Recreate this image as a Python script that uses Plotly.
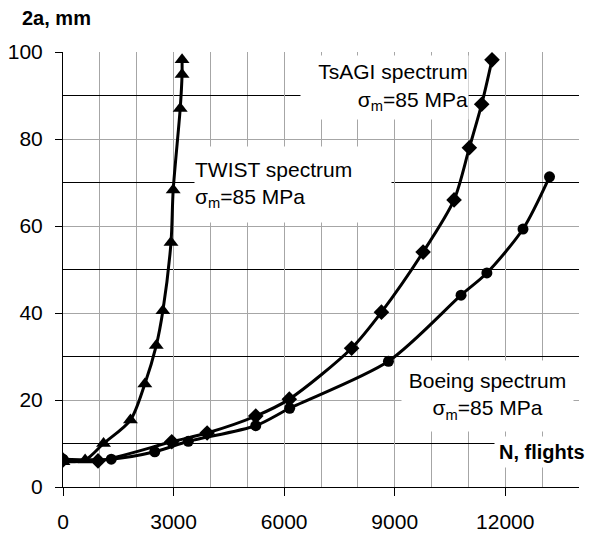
import plotly.graph_objects as go

# TWIST spectrum (triangles)
twist_n = [0, 600, 1100, 1830, 2220, 2530, 2710, 2930, 2990, 3180, 3230, 3230]
twist_a = [5.8, 6.2, 10.0, 15.4, 23.7, 32.5, 40.5, 56.2, 68.3, 87.0, 94.8, 98.2]

# TsAGI spectrum (diamonds)
tsagi_n = [0, 950, 2950, 3910, 5230, 6140, 7830, 8640, 9770, 10610, 11025, 11360, 11640]
tsagi_a = [6.2, 6.0, 10.4, 12.4, 16.3, 20.2, 31.9, 40.2, 54.0, 66.0, 78.0, 88.0, 98.2]

# Boeing spectrum (circles)
boeing_n = [0, 1310, 2490, 3400, 5230, 6150, 8830, 10800, 11500, 12480, 13200]
boeing_a = [6.4, 6.4, 8.1, 10.5, 14.1, 18.1, 28.9, 44.1, 49.2, 59.3, 71.3]

x_ticks = [0, 3000, 6000, 9000, 12000]
y_ticks = [0, 20, 40, 60, 80, 100]

FONT = "Liberation Sans, Arial, sans-serif"

fig = go.Figure()
common_line = dict(color="black", width=3, shape="spline", smoothing=0.8)
fig.add_trace(go.Scatter(x=twist_n, y=twist_a, mode="lines+markers",
                         line=common_line,
                         marker=dict(symbol="triangle-up", size=13, color="black"),
                         name="TWIST"))
fig.add_trace(go.Scatter(x=tsagi_n, y=tsagi_a, mode="lines+markers",
                         line=common_line,
                         marker=dict(symbol="diamond", size=12, color="black"),
                         name="TsAGI"))
fig.add_trace(go.Scatter(x=boeing_n, y=boeing_a, mode="lines+markers",
                         line=common_line,
                         marker=dict(symbol="circle", size=11, color="black"),
                         name="Boeing"))

grid_gray = "#a6a6a6"
fig.update_xaxes(range=[0, 14000], tickvals=x_ticks, ticktext=[str(v) for v in x_ticks],
                 showgrid=True, gridcolor=grid_gray, gridwidth=1,
                 minor=dict(dtick=1000, showgrid=True, gridcolor=grid_gray, gridwidth=1, ticks=""),
                 ticks="outside", ticklen=8, tickcolor="black", tickwidth=1,
                 showline=True, linecolor="black", linewidth=1, zeroline=False,
                 ticklabelstandoff=8, automargin=False,
                 tickfont=dict(family=FONT, size=21, color="black"))
fig.update_yaxes(range=[0, 100], tickvals=y_ticks, ticktext=[str(v) for v in y_ticks],
                 showgrid=True, gridcolor=grid_gray, gridwidth=1,
                 minor=dict(dtick=10, showgrid=True, gridcolor="black", gridwidth=1, ticks=""),
                 ticks="outside", ticklen=7, tickcolor="black", tickwidth=1,
                 showline=True, linecolor="black", linewidth=1, zeroline=False,
                 ticklabelstandoff=8, automargin=False,
                 tickfont=dict(family=FONT, size=21, color="black"))

PX_N = 516 / 14000
PX_A = 435 / 100

def box(text, x0, x1, ytop, ybot, align):
    w = (x1 - x0) * PX_N
    h = (ytop - ybot) * PX_A
    fig.add_annotation(x=x0, y=ytop, xref="x", yref="y", xanchor="left", yanchor="top",
                       text=text, showarrow=False, align=align, valign="middle",
                       width=w, height=h, bgcolor="white", borderpad=0,
                       font=dict(family=FONT, size=21, color="black"))

box("TWIST spectrum<br>σ<sub>m</sub>=85 MPa", 3550, 8870, 78.3, 61.0, "left")
box("TsAGI spectrum<br>σ<sub>m</sub>=85 MPa", 6430, 10960, 99.4, 85.0, "right")
box("Boeing spectrum<br>σ<sub>m</sub>=85 MPa", 9170, 13810, 29.2, 13.1, "center")

fig.add_annotation(x=(494 - 63) / 516, y=(535 - 452 - 48) / 435, xref="paper", yref="paper",
                   xanchor="left", yanchor="middle",
                   text="<b>N, flights</b>", showarrow=False, bgcolor="white",
                   borderpad=4,
                   font=dict(family=FONT, size=20, color="black"))
fig.add_annotation(x=(20 - 63) / 516, y=(535 - 18 - 48) / 435, xref="paper", yref="paper",
                   xanchor="left", yanchor="middle", showarrow=False,
                   text="<b>2a, mm</b>", font=dict(family=FONT, size=20, color="black"))

fig.update_layout(width=594, height=535, showlegend=False,
                  margin=dict(l=63, r=15, t=52, b=48, autoexpand=False),
                  plot_bgcolor="white", paper_bgcolor="white",
                  font=dict(family=FONT, color="black"))

fig.write_html("out.html", config={"displayModeBar": False},
               post_script="document.body.style.margin='0px';document.body.style.overflow='hidden';")
